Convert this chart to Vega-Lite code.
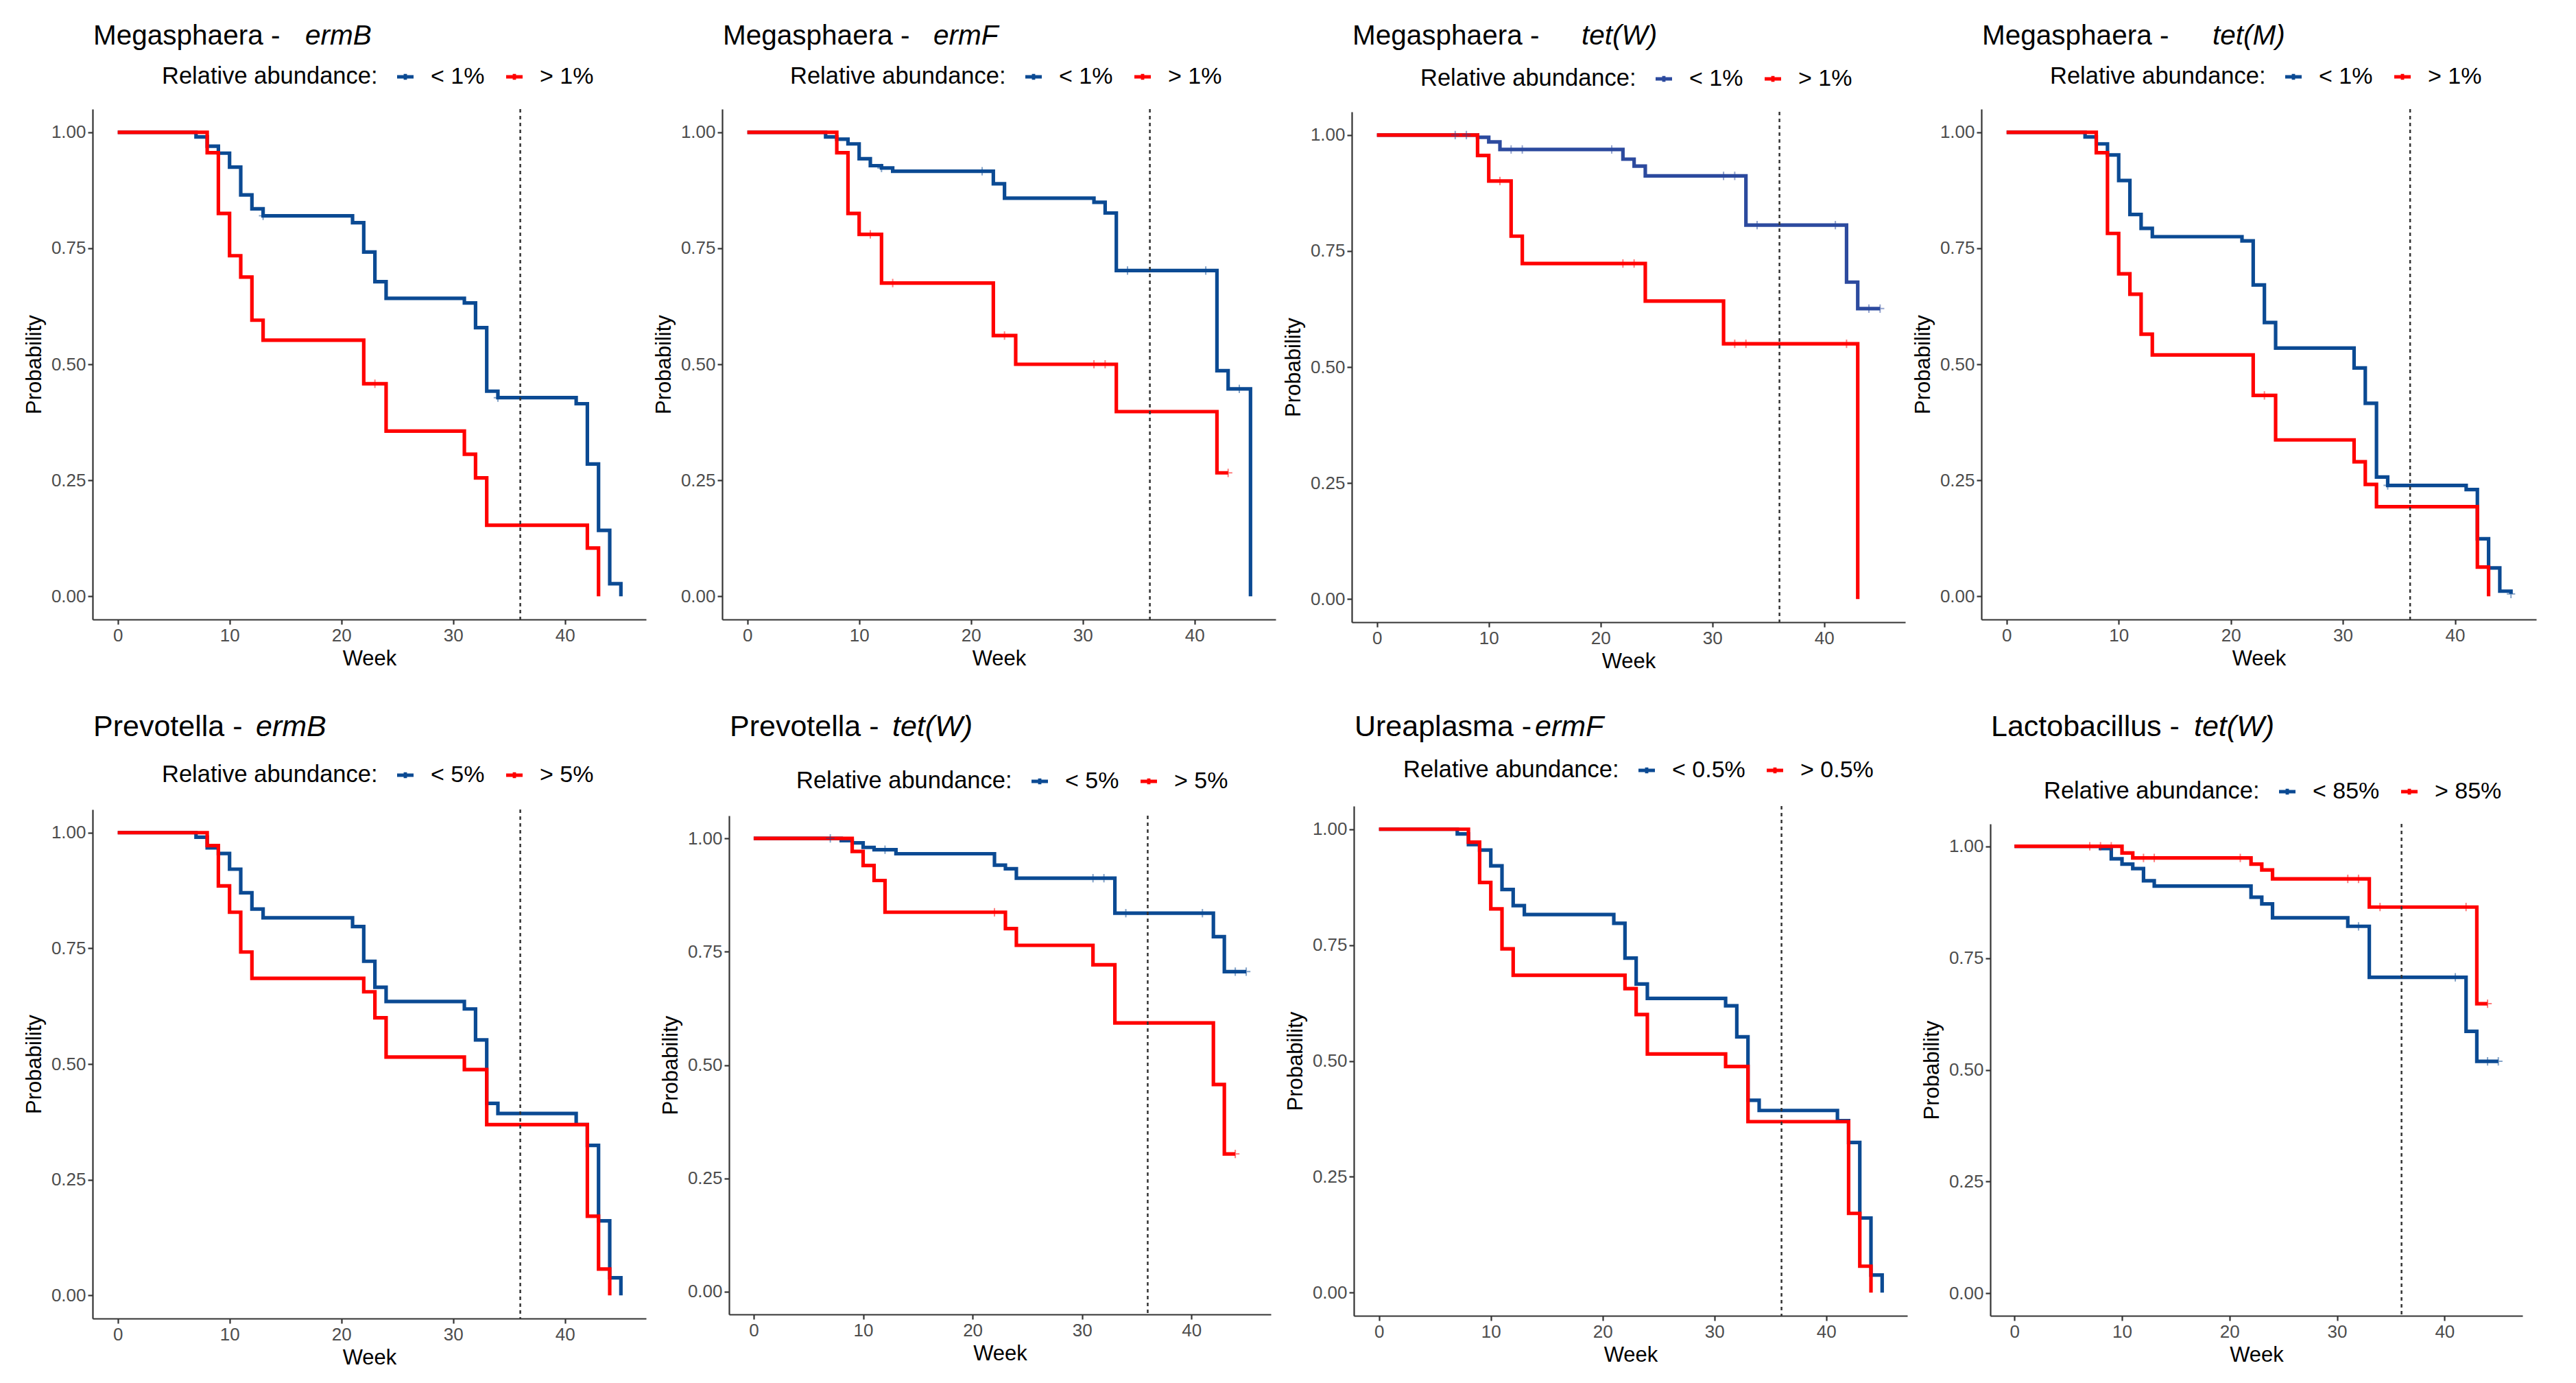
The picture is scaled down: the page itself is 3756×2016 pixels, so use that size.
{
"$schema": "https://vega.github.io/schema/vega-lite/v6.json",
"background": "white",
"padding": {"left": 34, "top": 32, "right": 5, "bottom": 5},
"config": {
  "font": "Liberation Sans",
  "view": {"stroke": null},
  "title": {"font": "Liberation Sans", "fontSize": 40.5, "fontWeight": "normal", "color": "#000000"},
  "axis": {"grid": false, "domainColor": "#333333", "domainWidth": 2.2, "tickColor": "#333333", "tickWidth": 2.2, "tickSize": 7, "labelColor": "#4D4D4D", "labelFont": "Liberation Sans", "labelFontSize": 26, "labelPadding": 3, "titleFont": "Liberation Sans", "titleFontSize": 31, "titleFontWeight": "normal", "titleColor": "#000000"},
  "axisX": {"titlePadding": 6},
  "axisY": {"titlePadding": 8},
  "legend": {"titleFont": "Liberation Sans", "titleFontSize": 34.5, "titleFontWeight": "normal", "titleColor": "#000000", "labelFont": "Liberation Sans", "labelFontSize": 34, "labelColor": "#000000", "titleLimit": 1000, "labelLimit": 400, "titleOrient": "left", "titleBaseline": "middle", "titlePadding": 23, "labelOffset": 20, "columnPadding": 21, "direction": "horizontal"}
},
"datasets": {
  "ref": [{"w": 36}],
  "km": [
    {"p":"P1","g":"< 1%","w":0,"s":1},{"p":"P1","g":"< 1%","w":7,"s":0.99},{"p":"P1","g":"< 1%","w":8,"s":0.97},{"p":"P1","g":"< 1%","w":9,"s":0.955},{"p":"P1","g":"< 1%","w":10,"s":0.925},{"p":"P1","g":"< 1%","w":11,"s":0.865},{"p":"P1","g":"< 1%","w":12,"s":0.835},{"p":"P1","g":"< 1%","w":13,"s":0.82},{"p":"P1","g":"< 1%","w":21,"s":0.805},{"p":"P1","g":"< 1%","w":22,"s":0.742},{"p":"P1","g":"< 1%","w":23,"s":0.678},{"p":"P1","g":"< 1%","w":24,"s":0.642},{"p":"P1","g":"< 1%","w":31,"s":0.632},{"p":"P1","g":"< 1%","w":32,"s":0.579},{"p":"P1","g":"< 1%","w":33,"s":0.442},{"p":"P1","g":"< 1%","w":34,"s":0.428},{"p":"P1","g":"< 1%","w":41,"s":0.415},{"p":"P1","g":"< 1%","w":42,"s":0.285},{"p":"P1","g":"< 1%","w":43,"s":0.142},{"p":"P1","g":"< 1%","w":44,"s":0.027},{"p":"P1","g":"< 1%","w":45,"s":0},
    {"p":"P1","g":"> 1%","w":0,"s":1},{"p":"P1","g":"> 1%","w":8,"s":0.956},{"p":"P1","g":"> 1%","w":9,"s":0.825},{"p":"P1","g":"> 1%","w":10,"s":0.734},{"p":"P1","g":"> 1%","w":11,"s":0.688},{"p":"P1","g":"> 1%","w":12,"s":0.595},{"p":"P1","g":"> 1%","w":13,"s":0.552},{"p":"P1","g":"> 1%","w":22,"s":0.458},{"p":"P1","g":"> 1%","w":24,"s":0.356},{"p":"P1","g":"> 1%","w":31,"s":0.306},{"p":"P1","g":"> 1%","w":32,"s":0.255},{"p":"P1","g":"> 1%","w":33,"s":0.153},{"p":"P1","g":"> 1%","w":42,"s":0.104},{"p":"P1","g":"> 1%","w":43,"s":0},
    {"p":"P2","g":"< 1%","w":0,"s":1},{"p":"P2","g":"< 1%","w":7,"s":0.99},{"p":"P2","g":"< 1%","w":8,"s":0.985},{"p":"P2","g":"< 1%","w":9,"s":0.975},{"p":"P2","g":"< 1%","w":10,"s":0.943},{"p":"P2","g":"< 1%","w":11,"s":0.928},{"p":"P2","g":"< 1%","w":12,"s":0.923},{"p":"P2","g":"< 1%","w":13,"s":0.916},{"p":"P2","g":"< 1%","w":22,"s":0.889},{"p":"P2","g":"< 1%","w":23,"s":0.858},{"p":"P2","g":"< 1%","w":31,"s":0.849},{"p":"P2","g":"< 1%","w":32,"s":0.826},{"p":"P2","g":"< 1%","w":33,"s":0.702},{"p":"P2","g":"< 1%","w":42,"s":0.486},{"p":"P2","g":"< 1%","w":43,"s":0.447},{"p":"P2","g":"< 1%","w":45,"s":0},
    {"p":"P2","g":"> 1%","w":0,"s":1},{"p":"P2","g":"> 1%","w":8,"s":0.956},{"p":"P2","g":"> 1%","w":9,"s":0.825},{"p":"P2","g":"> 1%","w":10,"s":0.78},{"p":"P2","g":"> 1%","w":12,"s":0.675},{"p":"P2","g":"> 1%","w":22,"s":0.562},{"p":"P2","g":"> 1%","w":24,"s":0.5},{"p":"P2","g":"> 1%","w":33,"s":0.398},{"p":"P2","g":"> 1%","w":42,"s":0.266},{"p":"P2","g":"> 1%","w":43,"s":0.266},
    {"p":"P3","g":"< 1%","w":0,"s":1},{"p":"P3","g":"< 1%","w":9,"s":0.995},{"p":"P3","g":"< 1%","w":10,"s":0.985},{"p":"P3","g":"< 1%","w":11,"s":0.969},{"p":"P3","g":"< 1%","w":22,"s":0.948},{"p":"P3","g":"< 1%","w":23,"s":0.933},{"p":"P3","g":"< 1%","w":24,"s":0.912},{"p":"P3","g":"< 1%","w":33,"s":0.806},{"p":"P3","g":"< 1%","w":42,"s":0.683},{"p":"P3","g":"< 1%","w":43,"s":0.626},{"p":"P3","g":"< 1%","w":45,"s":0.626},
    {"p":"P3","g":"> 1%","w":0,"s":1},{"p":"P3","g":"> 1%","w":9,"s":0.956},{"p":"P3","g":"> 1%","w":10,"s":0.901},{"p":"P3","g":"> 1%","w":12,"s":0.782},{"p":"P3","g":"> 1%","w":13,"s":0.723},{"p":"P3","g":"> 1%","w":24,"s":0.642},{"p":"P3","g":"> 1%","w":31,"s":0.55},{"p":"P3","g":"> 1%","w":43,"s":0},
    {"p":"P4","g":"< 1%","w":0,"s":1},{"p":"P4","g":"< 1%","w":7,"s":0.99},{"p":"P4","g":"< 1%","w":8,"s":0.975},{"p":"P4","g":"< 1%","w":9,"s":0.951},{"p":"P4","g":"< 1%","w":10,"s":0.896},{"p":"P4","g":"< 1%","w":11,"s":0.823},{"p":"P4","g":"< 1%","w":12,"s":0.793},{"p":"P4","g":"< 1%","w":13,"s":0.775},{"p":"P4","g":"< 1%","w":21,"s":0.766},{"p":"P4","g":"< 1%","w":22,"s":0.671},{"p":"P4","g":"< 1%","w":23,"s":0.59},{"p":"P4","g":"< 1%","w":24,"s":0.535},{"p":"P4","g":"< 1%","w":31,"s":0.492},{"p":"P4","g":"< 1%","w":32,"s":0.416},{"p":"P4","g":"< 1%","w":33,"s":0.257},{"p":"P4","g":"< 1%","w":34,"s":0.239},{"p":"P4","g":"< 1%","w":41,"s":0.23},{"p":"P4","g":"< 1%","w":42,"s":0.124},{"p":"P4","g":"< 1%","w":43,"s":0.061},{"p":"P4","g":"< 1%","w":44,"s":0.011},{"p":"P4","g":"< 1%","w":45,"s":0.005},
    {"p":"P4","g":"> 1%","w":0,"s":1},{"p":"P4","g":"> 1%","w":8,"s":0.956},{"p":"P4","g":"> 1%","w":9,"s":0.782},{"p":"P4","g":"> 1%","w":10,"s":0.695},{"p":"P4","g":"> 1%","w":11,"s":0.651},{"p":"P4","g":"> 1%","w":12,"s":0.565},{"p":"P4","g":"> 1%","w":13,"s":0.52},{"p":"P4","g":"> 1%","w":22,"s":0.433},{"p":"P4","g":"> 1%","w":24,"s":0.337},{"p":"P4","g":"> 1%","w":31,"s":0.29},{"p":"P4","g":"> 1%","w":32,"s":0.241},{"p":"P4","g":"> 1%","w":33,"s":0.193},{"p":"P4","g":"> 1%","w":42,"s":0.063},{"p":"P4","g":"> 1%","w":43,"s":0},
    {"p":"P5","g":"< 5%","w":0,"s":1},{"p":"P5","g":"< 5%","w":7,"s":0.99},{"p":"P5","g":"< 5%","w":8,"s":0.967},{"p":"P5","g":"< 5%","w":9,"s":0.955},{"p":"P5","g":"< 5%","w":10,"s":0.921},{"p":"P5","g":"< 5%","w":11,"s":0.87},{"p":"P5","g":"< 5%","w":12,"s":0.835},{"p":"P5","g":"< 5%","w":13,"s":0.816},{"p":"P5","g":"< 5%","w":21,"s":0.797},{"p":"P5","g":"< 5%","w":22,"s":0.722},{"p":"P5","g":"< 5%","w":23,"s":0.666},{"p":"P5","g":"< 5%","w":24,"s":0.635},{"p":"P5","g":"< 5%","w":31,"s":0.619},{"p":"P5","g":"< 5%","w":32,"s":0.552},{"p":"P5","g":"< 5%","w":33,"s":0.415},{"p":"P5","g":"< 5%","w":34,"s":0.393},{"p":"P5","g":"< 5%","w":41,"s":0.369},{"p":"P5","g":"< 5%","w":42,"s":0.324},{"p":"P5","g":"< 5%","w":43,"s":0.161},{"p":"P5","g":"< 5%","w":44,"s":0.038},{"p":"P5","g":"< 5%","w":45,"s":0},
    {"p":"P5","g":"> 5%","w":0,"s":1},{"p":"P5","g":"> 5%","w":8,"s":0.972},{"p":"P5","g":"> 5%","w":9,"s":0.885},{"p":"P5","g":"> 5%","w":10,"s":0.828},{"p":"P5","g":"> 5%","w":11,"s":0.742},{"p":"P5","g":"> 5%","w":12,"s":0.685},{"p":"P5","g":"> 5%","w":22,"s":0.656},{"p":"P5","g":"> 5%","w":23,"s":0.6},{"p":"P5","g":"> 5%","w":24,"s":0.515},{"p":"P5","g":"> 5%","w":31,"s":0.488},{"p":"P5","g":"> 5%","w":33,"s":0.369},{"p":"P5","g":"> 5%","w":42,"s":0.171},{"p":"P5","g":"> 5%","w":43,"s":0.057},{"p":"P5","g":"> 5%","w":44,"s":0},
    {"p":"P6","g":"< 5%","w":0,"s":1},{"p":"P6","g":"< 5%","w":8,"s":0.995},{"p":"P6","g":"< 5%","w":9,"s":0.99},{"p":"P6","g":"< 5%","w":10,"s":0.98},{"p":"P6","g":"< 5%","w":11,"s":0.975},{"p":"P6","g":"< 5%","w":13,"s":0.966},{"p":"P6","g":"< 5%","w":22,"s":0.941},{"p":"P6","g":"< 5%","w":23,"s":0.933},{"p":"P6","g":"< 5%","w":24,"s":0.912},{"p":"P6","g":"< 5%","w":33,"s":0.835},{"p":"P6","g":"< 5%","w":42,"s":0.783},{"p":"P6","g":"< 5%","w":43,"s":0.706},{"p":"P6","g":"< 5%","w":45,"s":0.706},
    {"p":"P6","g":"> 5%","w":0,"s":1},{"p":"P6","g":"> 5%","w":9,"s":0.971},{"p":"P6","g":"> 5%","w":10,"s":0.94},{"p":"P6","g":"> 5%","w":11,"s":0.907},{"p":"P6","g":"> 5%","w":12,"s":0.837},{"p":"P6","g":"> 5%","w":23,"s":0.801},{"p":"P6","g":"> 5%","w":24,"s":0.764},{"p":"P6","g":"> 5%","w":31,"s":0.721},{"p":"P6","g":"> 5%","w":33,"s":0.593},{"p":"P6","g":"> 5%","w":42,"s":0.457},{"p":"P6","g":"> 5%","w":43,"s":0.304},{"p":"P6","g":"> 5%","w":44,"s":0.304},
    {"p":"P7","g":"< 0.5%","w":0,"s":1},{"p":"P7","g":"< 0.5%","w":7,"s":0.99},{"p":"P7","g":"< 0.5%","w":8,"s":0.967},{"p":"P7","g":"< 0.5%","w":9,"s":0.955},{"p":"P7","g":"< 0.5%","w":10,"s":0.921},{"p":"P7","g":"< 0.5%","w":11,"s":0.87},{"p":"P7","g":"< 0.5%","w":12,"s":0.835},{"p":"P7","g":"< 0.5%","w":13,"s":0.816},{"p":"P7","g":"< 0.5%","w":21,"s":0.797},{"p":"P7","g":"< 0.5%","w":22,"s":0.722},{"p":"P7","g":"< 0.5%","w":23,"s":0.666},{"p":"P7","g":"< 0.5%","w":24,"s":0.635},{"p":"P7","g":"< 0.5%","w":31,"s":0.619},{"p":"P7","g":"< 0.5%","w":32,"s":0.552},{"p":"P7","g":"< 0.5%","w":33,"s":0.415},{"p":"P7","g":"< 0.5%","w":34,"s":0.393},{"p":"P7","g":"< 0.5%","w":41,"s":0.371},{"p":"P7","g":"< 0.5%","w":42,"s":0.324},{"p":"P7","g":"< 0.5%","w":43,"s":0.161},{"p":"P7","g":"< 0.5%","w":44,"s":0.038},{"p":"P7","g":"< 0.5%","w":45,"s":0},
    {"p":"P7","g":"> 0.5%","w":0,"s":1},{"p":"P7","g":"> 0.5%","w":8,"s":0.972},{"p":"P7","g":"> 0.5%","w":9,"s":0.885},{"p":"P7","g":"> 0.5%","w":10,"s":0.828},{"p":"P7","g":"> 0.5%","w":11,"s":0.742},{"p":"P7","g":"> 0.5%","w":12,"s":0.685},{"p":"P7","g":"> 0.5%","w":22,"s":0.656},{"p":"P7","g":"> 0.5%","w":23,"s":0.6},{"p":"P7","g":"> 0.5%","w":24,"s":0.515},{"p":"P7","g":"> 0.5%","w":31,"s":0.488},{"p":"P7","g":"> 0.5%","w":33,"s":0.369},{"p":"P7","g":"> 0.5%","w":42,"s":0.171},{"p":"P7","g":"> 0.5%","w":43,"s":0.057},{"p":"P7","g":"> 0.5%","w":44,"s":0},
    {"p":"P8","g":"< 85%","w":0,"s":1},{"p":"P8","g":"< 85%","w":8,"s":0.995},{"p":"P8","g":"< 85%","w":9,"s":0.972},{"p":"P8","g":"< 85%","w":10,"s":0.96},{"p":"P8","g":"< 85%","w":11,"s":0.95},{"p":"P8","g":"< 85%","w":12,"s":0.923},{"p":"P8","g":"< 85%","w":13,"s":0.911},{"p":"P8","g":"< 85%","w":22,"s":0.886},{"p":"P8","g":"< 85%","w":23,"s":0.871},{"p":"P8","g":"< 85%","w":24,"s":0.84},{"p":"P8","g":"< 85%","w":31,"s":0.821},{"p":"P8","g":"< 85%","w":33,"s":0.707},{"p":"P8","g":"< 85%","w":42,"s":0.586},{"p":"P8","g":"< 85%","w":43,"s":0.519},{"p":"P8","g":"< 85%","w":45,"s":0.519},
    {"p":"P8","g":"> 85%","w":0,"s":1},{"p":"P8","g":"> 85%","w":10,"s":0.985},{"p":"P8","g":"> 85%","w":11,"s":0.974},{"p":"P8","g":"> 85%","w":22,"s":0.96},{"p":"P8","g":"> 85%","w":23,"s":0.947},{"p":"P8","g":"> 85%","w":24,"s":0.927},{"p":"P8","g":"> 85%","w":33,"s":0.864},{"p":"P8","g":"> 85%","w":43,"s":0.648},{"p":"P8","g":"> 85%","w":44,"s":0.648}
  ],
  "cz": [
    {"p":"P1","g":"< 1%","w":13,"s":0.82},{"p":"P1","g":"< 1%","w":34,"s":0.428},{"p":"P1","g":"> 1%","w":23,"s":0.458},
    {"p":"P2","g":"< 1%","w":12,"s":0.923},{"p":"P2","g":"< 1%","w":21,"s":0.916},{"p":"P2","g":"< 1%","w":34,"s":0.702},{"p":"P2","g":"< 1%","w":41,"s":0.702},{"p":"P2","g":"< 1%","w":44,"s":0.447},
    {"p":"P2","g":"> 1%","w":11,"s":0.78},{"p":"P2","g":"> 1%","w":13,"s":0.675},{"p":"P2","g":"> 1%","w":23,"s":0.562},{"p":"P2","g":"> 1%","w":31,"s":0.5},{"p":"P2","g":"> 1%","w":32,"s":0.5},{"p":"P2","g":"> 1%","w":43,"s":0.266},
    {"p":"P3","g":"< 1%","w":7,"s":1},{"p":"P3","g":"< 1%","w":8,"s":1},{"p":"P3","g":"< 1%","w":12,"s":0.969},{"p":"P3","g":"< 1%","w":13,"s":0.969},{"p":"P3","g":"< 1%","w":21,"s":0.969},{"p":"P3","g":"< 1%","w":31,"s":0.912},{"p":"P3","g":"< 1%","w":32,"s":0.912},{"p":"P3","g":"< 1%","w":34,"s":0.806},{"p":"P3","g":"< 1%","w":41,"s":0.806},{"p":"P3","g":"< 1%","w":44,"s":0.626},{"p":"P3","g":"< 1%","w":45,"s":0.626},
    {"p":"P3","g":"> 1%","w":11,"s":0.901},{"p":"P3","g":"> 1%","w":22,"s":0.723},{"p":"P3","g":"> 1%","w":23,"s":0.723},{"p":"P3","g":"> 1%","w":32,"s":0.55},{"p":"P3","g":"> 1%","w":33,"s":0.55},{"p":"P3","g":"> 1%","w":42,"s":0.55},
    {"p":"P4","g":"< 1%","w":34,"s":0.239},{"p":"P4","g":"< 1%","w":45,"s":0.005},{"p":"P4","g":"> 1%","w":23,"s":0.433},
    {"p":"P6","g":"< 5%","w":7,"s":1},{"p":"P6","g":"< 5%","w":12,"s":0.975},{"p":"P6","g":"< 5%","w":31,"s":0.912},{"p":"P6","g":"< 5%","w":32,"s":0.912},{"p":"P6","g":"< 5%","w":34,"s":0.835},{"p":"P6","g":"< 5%","w":41,"s":0.835},{"p":"P6","g":"< 5%","w":44,"s":0.706},{"p":"P6","g":"< 5%","w":45,"s":0.706},
    {"p":"P6","g":"> 5%","w":22,"s":0.837},{"p":"P6","g":"> 5%","w":44,"s":0.304},
    {"p":"P8","g":"< 85%","w":32,"s":0.821},{"p":"P8","g":"< 85%","w":41,"s":0.707},{"p":"P8","g":"< 85%","w":44,"s":0.519},{"p":"P8","g":"< 85%","w":45,"s":0.519},
    {"p":"P8","g":"> 85%","w":7,"s":1},{"p":"P8","g":"> 85%","w":8,"s":1},{"p":"P8","g":"> 85%","w":9,"s":1},{"p":"P8","g":"> 85%","w":12,"s":0.974},{"p":"P8","g":"> 85%","w":13,"s":0.974},{"p":"P8","g":"> 85%","w":21,"s":0.974},{"p":"P8","g":"> 85%","w":31,"s":0.927},{"p":"P8","g":"> 85%","w":32,"s":0.927},{"p":"P8","g":"> 85%","w":34,"s":0.864},{"p":"P8","g":"> 85%","w":42,"s":0.864},{"p":"P8","g":"> 85%","w":44,"s":0.648}
  ]
},
"spacing": 59,
"resolve": {"scale": {"color": "independent"}, "legend": {"color": "independent"}},
"vconcat": [
 {"spacing": 10, "resolve": {"scale": {"color": "independent"}, "legend": {"color": "independent"}},
  "hconcat": [
  {"title": {"text": "Megasphaera -", "anchor": "start", "frame": "group", "offset": 0, "dy": 41.5, "dx": 1}, "spacing": 0, "resolve": {"scale": {"color": "independent"}, "legend": {"color": "independent"}},
   "vconcat": [{"width": 1, "height": 1, "data": {"values": []}, "mark": "point"},
    {"width": 807, "height": 744,
     "title": {"text": "ermB", "fontStyle": "italic", "anchor": "start", "frame": "group", "dx": 310, "offset": 21.5},
     "layer": [
      {"data": {"name": "km"}, "transform": [{"filter": "datum.p == 'P1'"}], "mark": {"type": "line", "interpolate": "step-after", "strokeWidth": 5.2},
       "encoding": {"x": {"field": "w", "type": "quantitative", "title": "Week", "scale": {"domain": [-2.25, 47.25], "nice": false, "zero": false}, "axis": {"values": [0,10,20,30,40]}},
        "y": {"field": "s", "type": "quantitative", "title": "Probability", "scale": {"domain": [-0.05, 1.05], "nice": false, "zero": false}, "axis": {"values": [0,0.25,0.5,0.75,1], "format": ".2f"}},
        "color": {"field": "g", "type": "nominal", "sort": null, "scale": {"domain": ["< 1%", "> 1%"], "range": ["#0B4A93", "#FF0000"]}, "legend": {"orient": "none", "legendX": 101, "legendY": -64, "direction": "horizontal", "title": "Relative abundance:", "symbolType": "M-1,0H1M0,-0.35V0.35", "symbolSize": 576, "symbolStrokeWidth": 4.8}}}},
      {"data": {"name": "cz"}, "transform": [{"filter": "datum.p == 'P1'"}], "mark": {"type": "point", "shape": "M-1,0H1M0,-1V1", "size": 150, "strokeWidth": 2, "filled": false, "opacity": 0.5},
       "encoding": {"x": {"field": "w", "type": "quantitative"}, "y": {"field": "s", "type": "quantitative"}, "color": {"field": "g", "type": "nominal", "scale": {"domain": ["< 1%", "> 1%"], "range": ["#0B4A93", "#FF0000"]}, "legend": null}}},
      {"data": {"name": "ref"}, "mark": {"type": "rule", "strokeDash": [5, 5], "strokeWidth": 2.5, "color": "#333333"}, "encoding": {"x": {"field": "w", "type": "quantitative"}}}
     ]}]},
  {"title": {"text": "Megasphaera -", "anchor": "start", "frame": "group", "offset": 0, "dy": 41.5, "dx": 1}, "spacing": 0, "resolve": {"scale": {"color": "independent"}, "legend": {"color": "independent"}},
   "vconcat": [{"width": 1, "height": 1, "data": {"values": []}, "mark": "point"},
    {"width": 807, "height": 744,
     "title": {"text": "ermF", "fontStyle": "italic", "anchor": "start", "frame": "group", "dx": 308, "offset": 21.5},
     "layer": [
      {"data": {"name": "km"}, "transform": [{"filter": "datum.p == 'P2'"}], "mark": {"type": "line", "interpolate": "step-after", "strokeWidth": 5.2},
       "encoding": {"x": {"field": "w", "type": "quantitative", "title": "Week", "scale": {"domain": [-2.25, 47.25], "nice": false, "zero": false}, "axis": {"values": [0,10,20,30,40]}},
        "y": {"field": "s", "type": "quantitative", "title": "Probability", "scale": {"domain": [-0.05, 1.05], "nice": false, "zero": false}, "axis": {"values": [0,0.25,0.5,0.75,1], "format": ".2f"}},
        "color": {"field": "g", "type": "nominal", "sort": null, "scale": {"domain": ["< 1%", "> 1%"], "range": ["#0B4A93", "#FF0000"]}, "legend": {"orient": "none", "legendX": 99, "legendY": -64, "direction": "horizontal", "title": "Relative abundance:", "symbolType": "M-1,0H1M0,-0.35V0.35", "symbolSize": 576, "symbolStrokeWidth": 4.8}}}},
      {"data": {"name": "cz"}, "transform": [{"filter": "datum.p == 'P2'"}], "mark": {"type": "point", "shape": "M-1,0H1M0,-1V1", "size": 150, "strokeWidth": 2, "filled": false, "opacity": 0.5},
       "encoding": {"x": {"field": "w", "type": "quantitative"}, "y": {"field": "s", "type": "quantitative"}, "color": {"field": "g", "type": "nominal", "scale": {"domain": ["< 1%", "> 1%"], "range": ["#0B4A93", "#FF0000"]}, "legend": null}}},
      {"data": {"name": "ref"}, "mark": {"type": "rule", "strokeDash": [5, 5], "strokeWidth": 2.5, "color": "#333333"}, "encoding": {"x": {"field": "w", "type": "quantitative"}}}
     ]}]},
  {"title": {"text": "Megasphaera -", "anchor": "start", "frame": "group", "offset": 0, "dy": 41.5, "dx": 1}, "spacing": 0, "resolve": {"scale": {"color": "independent"}, "legend": {"color": "independent"}},
   "vconcat": [{"width": 1, "height": 1, "data": {"values": []}, "mark": "point"},
    {"width": 807, "height": 744,
     "title": {"text": "tet(W)", "fontStyle": "italic", "anchor": "start", "frame": "group", "dx": 335, "offset": 24.5},
     "layer": [
      {"data": {"name": "km"}, "transform": [{"filter": "datum.p == 'P3'"}], "mark": {"type": "line", "interpolate": "step-after", "strokeWidth": 5.2},
       "encoding": {"x": {"field": "w", "type": "quantitative", "title": "Week", "scale": {"domain": [-2.25, 47.25], "nice": false, "zero": false}, "axis": {"values": [0,10,20,30,40]}},
        "y": {"field": "s", "type": "quantitative", "title": "Probability", "scale": {"domain": [-0.05, 1.05], "nice": false, "zero": false}, "axis": {"values": [0,0.25,0.5,0.75,1], "format": ".2f"}},
        "color": {"field": "g", "type": "nominal", "sort": null, "scale": {"domain": ["< 1%", "> 1%"], "range": ["#2C4A9E", "#FF0000"]}, "legend": {"orient": "none", "legendX": 100, "legendY": -65, "direction": "horizontal", "title": "Relative abundance:", "symbolType": "M-1,0H1M0,-0.35V0.35", "symbolSize": 576, "symbolStrokeWidth": 4.8}}}},
      {"data": {"name": "cz"}, "transform": [{"filter": "datum.p == 'P3'"}], "mark": {"type": "point", "shape": "M-1,0H1M0,-1V1", "size": 150, "strokeWidth": 2, "filled": false, "opacity": 0.5},
       "encoding": {"x": {"field": "w", "type": "quantitative"}, "y": {"field": "s", "type": "quantitative"}, "color": {"field": "g", "type": "nominal", "scale": {"domain": ["< 1%", "> 1%"], "range": ["#2C4A9E", "#FF0000"]}, "legend": null}}},
      {"data": {"name": "ref"}, "mark": {"type": "rule", "strokeDash": [5, 5], "strokeWidth": 2.5, "color": "#333333"}, "encoding": {"x": {"field": "w", "type": "quantitative"}}}
     ]}]},
  {"title": {"text": "Megasphaera -", "anchor": "start", "frame": "group", "offset": 0, "dy": 41.5, "dx": 1}, "spacing": 0, "resolve": {"scale": {"color": "independent"}, "legend": {"color": "independent"}},
   "vconcat": [{"width": 1, "height": 1, "data": {"values": []}, "mark": "point"},
    {"width": 809, "height": 744,
     "title": {"text": "tet(M)", "fontStyle": "italic", "anchor": "start", "frame": "group", "dx": 337, "offset": 21.5},
     "layer": [
      {"data": {"name": "km"}, "transform": [{"filter": "datum.p == 'P4'"}], "mark": {"type": "line", "interpolate": "step-after", "strokeWidth": 5.2},
       "encoding": {"x": {"field": "w", "type": "quantitative", "title": "Week", "scale": {"domain": [-2.25, 47.25], "nice": false, "zero": false}, "axis": {"values": [0,10,20,30,40]}},
        "y": {"field": "s", "type": "quantitative", "title": "Probability", "scale": {"domain": [-0.05, 1.05], "nice": false, "zero": false}, "axis": {"values": [0,0.25,0.5,0.75,1], "format": ".2f"}},
        "color": {"field": "g", "type": "nominal", "sort": null, "scale": {"domain": ["< 1%", "> 1%"], "range": ["#0B4A93", "#FF0000"]}, "legend": {"orient": "none", "legendX": 100, "legendY": -64, "direction": "horizontal", "title": "Relative abundance:", "symbolType": "M-1,0H1M0,-0.35V0.35", "symbolSize": 576, "symbolStrokeWidth": 4.8}}}},
      {"data": {"name": "cz"}, "transform": [{"filter": "datum.p == 'P4'"}], "mark": {"type": "point", "shape": "M-1,0H1M0,-1V1", "size": 150, "strokeWidth": 2, "filled": false, "opacity": 0.5},
       "encoding": {"x": {"field": "w", "type": "quantitative"}, "y": {"field": "s", "type": "quantitative"}, "color": {"field": "g", "type": "nominal", "scale": {"domain": ["< 1%", "> 1%"], "range": ["#0B4A93", "#FF0000"]}, "legend": null}}},
      {"data": {"name": "ref"}, "mark": {"type": "rule", "strokeDash": [5, 5], "strokeWidth": 2.5, "color": "#333333"}, "encoding": {"x": {"field": "w", "type": "quantitative"}}}
     ]}]}
 ]},
 {"spacing": 20, "resolve": {"scale": {"color": "independent"}, "legend": {"color": "independent"}},
  "hconcat": [
  {"title": {"text": "Prevotella -", "fontSize": 43, "anchor": "start", "frame": "group", "offset": 0, "dy": 44, "dx": 1}, "spacing": 0, "resolve": {"scale": {"color": "independent"}, "legend": {"color": "independent"}},
   "vconcat": [{"width": 1, "height": 1, "data": {"values": []}, "mark": "point"},
    {"width": 807, "height": 742,
     "title": {"text": "ermB", "fontSize": 43, "fontStyle": "italic", "anchor": "start", "frame": "group", "dx": 238, "offset": 31},
     "layer": [
      {"data": {"name": "km"}, "transform": [{"filter": "datum.p == 'P5'"}], "mark": {"type": "line", "interpolate": "step-after", "strokeWidth": 5.2},
       "encoding": {"x": {"field": "w", "type": "quantitative", "title": "Week", "scale": {"domain": [-2.25, 47.25], "nice": false, "zero": false}, "axis": {"values": [0,10,20,30,40]}},
        "y": {"field": "s", "type": "quantitative", "title": "Probability", "scale": {"domain": [-0.05, 1.05], "nice": false, "zero": false}, "axis": {"values": [0,0.25,0.5,0.75,1], "format": ".2f"}},
        "color": {"field": "g", "type": "nominal", "sort": null, "scale": {"domain": ["< 5%", "> 5%"], "range": ["#0B4A93", "#FF0000"]}, "legend": {"orient": "none", "legendX": 101, "legendY": -67, "direction": "horizontal", "title": "Relative abundance:", "symbolType": "M-1,0H1M0,-0.35V0.35", "symbolSize": 576, "symbolStrokeWidth": 4.8}}}},
      {"data": {"name": "ref"}, "mark": {"type": "rule", "strokeDash": [5, 5], "strokeWidth": 2.5, "color": "#333333"}, "encoding": {"x": {"field": "w", "type": "quantitative"}}}
     ]}]},
  {"title": {"text": "Prevotella -", "fontSize": 43, "anchor": "start", "frame": "group", "offset": 0, "dy": 44, "dx": 1}, "spacing": 0, "resolve": {"scale": {"color": "independent"}, "legend": {"color": "independent"}},
   "vconcat": [{"width": 1, "height": 1, "data": {"values": []}, "mark": "point"},
    {"width": 790, "height": 727,
     "title": {"text": "tet(W)", "fontSize": 43, "fontStyle": "italic", "anchor": "start", "frame": "group", "dx": 238, "offset": 40},
     "layer": [
      {"data": {"name": "km"}, "transform": [{"filter": "datum.p == 'P6'"}], "mark": {"type": "line", "interpolate": "step-after", "strokeWidth": 5.2},
       "encoding": {"x": {"field": "w", "type": "quantitative", "title": "Week", "scale": {"domain": [-2.25, 47.25], "nice": false, "zero": false}, "axis": {"values": [0,10,20,30,40]}},
        "y": {"field": "s", "type": "quantitative", "title": "Probability", "scale": {"domain": [-0.05, 1.05], "nice": false, "zero": false}, "axis": {"values": [0,0.25,0.5,0.75,1], "format": ".2f"}},
        "color": {"field": "g", "type": "nominal", "sort": null, "scale": {"domain": ["< 5%", "> 5%"], "range": ["#0B4A93", "#FF0000"]}, "legend": {"orient": "none", "legendX": 98, "legendY": -67, "direction": "horizontal", "title": "Relative abundance:", "symbolType": "M-1,0H1M0,-0.35V0.35", "symbolSize": 576, "symbolStrokeWidth": 4.8}}}},
      {"data": {"name": "cz"}, "transform": [{"filter": "datum.p == 'P6'"}], "mark": {"type": "point", "shape": "M-1,0H1M0,-1V1", "size": 150, "strokeWidth": 2, "filled": false, "opacity": 0.5},
       "encoding": {"x": {"field": "w", "type": "quantitative"}, "y": {"field": "s", "type": "quantitative"}, "color": {"field": "g", "type": "nominal", "scale": {"domain": ["< 5%", "> 5%"], "range": ["#0B4A93", "#FF0000"]}, "legend": null}}},
      {"data": {"name": "ref"}, "mark": {"type": "rule", "strokeDash": [5, 5], "strokeWidth": 2.5, "color": "#333333"}, "encoding": {"x": {"field": "w", "type": "quantitative"}}}
     ]}]},
  {"title": {"text": "Ureaplasma -", "fontSize": 43, "anchor": "start", "frame": "group", "offset": 0, "dy": 44, "dx": 1}, "spacing": 0, "resolve": {"scale": {"color": "independent"}, "legend": {"color": "independent"}},
   "vconcat": [{"width": 1, "height": 1, "data": {"values": []}, "mark": "point"},
    {"width": 807, "height": 743,
     "title": {"text": "ermF", "fontSize": 43, "fontStyle": "italic", "anchor": "start", "frame": "group", "dx": 264, "offset": 24},
     "layer": [
      {"data": {"name": "km"}, "transform": [{"filter": "datum.p == 'P7'"}], "mark": {"type": "line", "interpolate": "step-after", "strokeWidth": 5.2},
       "encoding": {"x": {"field": "w", "type": "quantitative", "title": "Week", "scale": {"domain": [-2.25, 47.25], "nice": false, "zero": false}, "axis": {"values": [0,10,20,30,40]}},
        "y": {"field": "s", "type": "quantitative", "title": "Probability", "scale": {"domain": [-0.05, 1.05], "nice": false, "zero": false}, "axis": {"values": [0,0.25,0.5,0.75,1], "format": ".2f"}},
        "color": {"field": "g", "type": "nominal", "sort": null, "scale": {"domain": ["< 0.5%", "> 0.5%"], "range": ["#0B4A93", "#FF0000"]}, "legend": {"orient": "none", "legendX": 72, "legendY": -69, "direction": "horizontal", "title": "Relative abundance:", "symbolType": "M-1,0H1M0,-0.35V0.35", "symbolSize": 576, "symbolStrokeWidth": 4.8}}}},
      {"data": {"name": "ref"}, "mark": {"type": "rule", "strokeDash": [5, 5], "strokeWidth": 2.5, "color": "#333333"}, "encoding": {"x": {"field": "w", "type": "quantitative"}}}
     ]}]},
  {"title": {"text": "Lactobacillus -", "fontSize": 43, "anchor": "start", "frame": "group", "offset": 0, "dy": 44, "dx": 1}, "spacing": 0, "resolve": {"scale": {"color": "independent"}, "legend": {"color": "independent"}},
   "vconcat": [{"width": 1, "height": 1, "data": {"values": []}, "mark": "point"},
    {"width": 776, "height": 717,
     "title": {"text": "tet(W)", "fontSize": 43, "fontStyle": "italic", "anchor": "start", "frame": "group", "dx": 297, "offset": 55},
     "layer": [
      {"data": {"name": "km"}, "transform": [{"filter": "datum.p == 'P8'"}], "mark": {"type": "line", "interpolate": "step-after", "strokeWidth": 5.2},
       "encoding": {"x": {"field": "w", "type": "quantitative", "title": "Week", "scale": {"domain": [-2.25, 47.25], "nice": false, "zero": false}, "axis": {"values": [0,10,20,30,40]}},
        "y": {"field": "s", "type": "quantitative", "title": "Probability", "scale": {"domain": [-0.05, 1.05], "nice": false, "zero": false}, "axis": {"values": [0,0.25,0.5,0.75,1], "format": ".2f"}},
        "color": {"field": "g", "type": "nominal", "sort": null, "scale": {"domain": ["< 85%", "> 85%"], "range": ["#0B4A93", "#FF0000"]}, "legend": {"orient": "none", "legendX": 78, "legendY": -64, "direction": "horizontal", "title": "Relative abundance:", "symbolType": "M-1,0H1M0,-0.35V0.35", "symbolSize": 576, "symbolStrokeWidth": 4.8}}}},
      {"data": {"name": "cz"}, "transform": [{"filter": "datum.p == 'P8'"}], "mark": {"type": "point", "shape": "M-1,0H1M0,-1V1", "size": 150, "strokeWidth": 2, "filled": false, "opacity": 0.5},
       "encoding": {"x": {"field": "w", "type": "quantitative"}, "y": {"field": "s", "type": "quantitative"}, "color": {"field": "g", "type": "nominal", "scale": {"domain": ["< 85%", "> 85%"], "range": ["#0B4A93", "#FF0000"]}, "legend": null}}},
      {"data": {"name": "ref"}, "mark": {"type": "rule", "strokeDash": [5, 5], "strokeWidth": 2.5, "color": "#333333"}, "encoding": {"x": {"field": "w", "type": "quantitative"}}}
     ]}]}
 ]}
]
}
